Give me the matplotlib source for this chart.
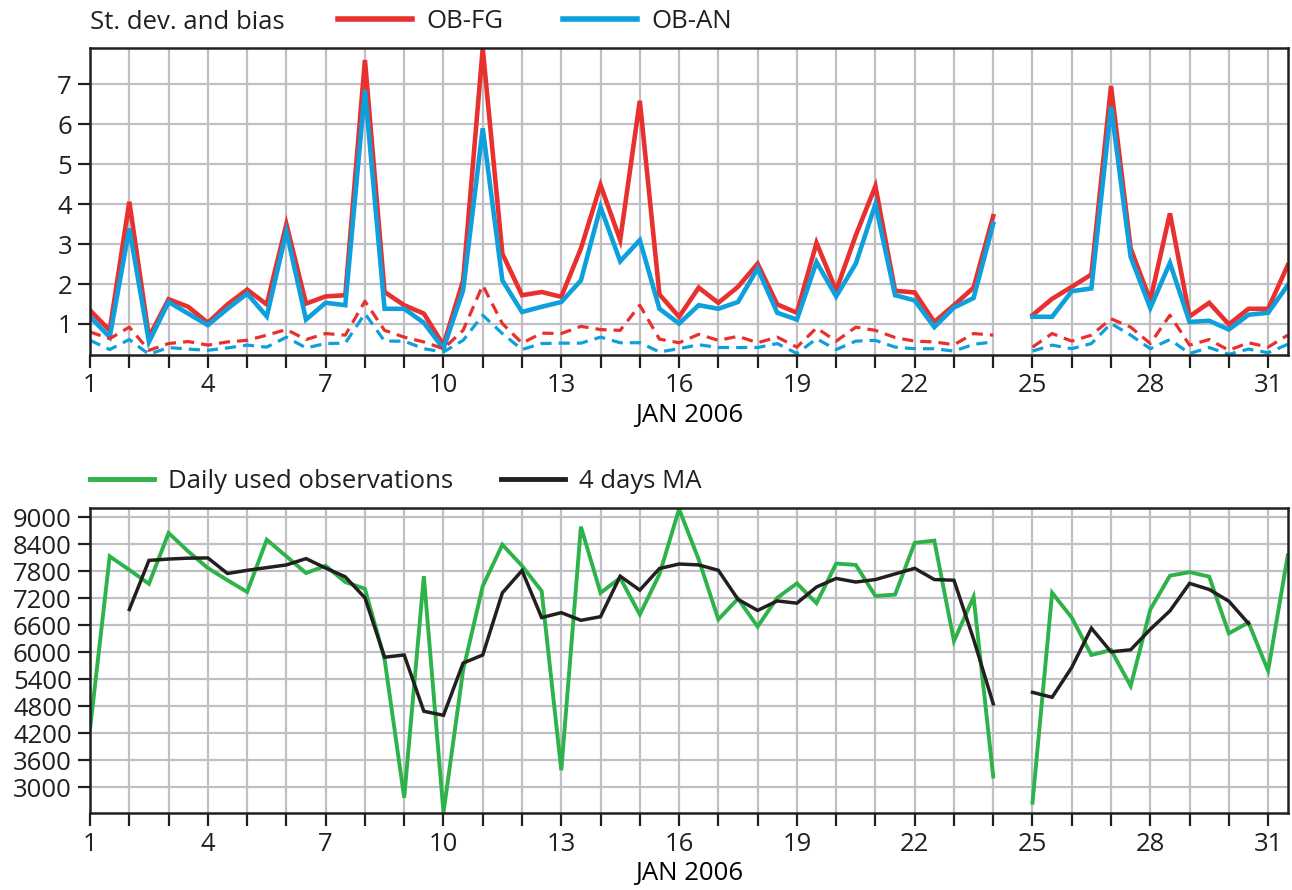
# ======================================================
# Observation monitoring — January 2006
# Top: st. dev. (solid) and bias (dashed) of OB-FG / OB-AN
# Bottom: daily used observations and 4 days moving average
# ======================================================

import numpy as np
import matplotlib
matplotlib.use("Agg")
import matplotlib.pyplot as plt
from matplotlib.lines import Line2D

FS = 18.5  # common font size for ticks, labels and legends

plt.rcParams.update({
    "font.family": ["Open Sans", "DejaVu Sans"],
    "font.size": FS,
    "axes.linewidth": 1.8,
    "axes.edgecolor": "#231f20",
    "xtick.color": "#231f20",
    "ytick.color": "#231f20",
    "text.color": "#231f20",
})

# ======================================================
# DATA (values every 12 h, gap at 24.5)
# ======================================================
nan = np.nan
days = np.arange(1, 32, 0.5)

fg_std = [1.34, 0.84, 4.06, 0.67, 1.62, 1.43, 1.03, 1.49, 1.86, 1.49,
          3.50, 1.51, 1.69, 1.72, 7.61, 1.80, 1.47, 1.26, 0.47, 2.09,
          7.90, 2.76, 1.72, 1.80, 1.68, 2.89, 4.48, 3.10, 6.59, 1.74,
          1.18, 1.91, 1.53, 1.93, 2.51, 1.49, 1.28, 3.03, 1.84, 3.22,
          4.45, 1.83, 1.79, 1.05, 1.47, 1.91, 3.70, nan,
          1.22, 1.63, 1.93, 2.24, 6.96, 2.89, 1.59, 3.77, 1.19, 1.53,
          0.99, 1.38, 1.38, 2.47]
an_std = [1.18, 0.67, 3.39, 0.55, 1.55, 1.26, 0.97, 1.38, 1.76, 1.19,
          3.31, 1.11, 1.53, 1.47, 6.86, 1.38, 1.38, 1.03, 0.38, 1.84,
          5.90, 2.09, 1.30, 1.43, 1.55, 2.09, 3.93, 2.57, 3.10, 1.38,
          1.01, 1.47, 1.38, 1.55, 2.39, 1.28, 1.11, 2.55, 1.69, 2.51,
          4.00, 1.72, 1.59, 0.92, 1.41, 1.65, 3.51, nan,
          1.18, 1.18, 1.82, 1.89, 6.44, 2.68, 1.40, 2.53, 1.05, 1.08,
          0.86, 1.23, 1.28, 1.97]
fg_bias = [0.80, 0.63, 0.92, 0.34, 0.51, 0.56, 0.47, 0.55, 0.59, 0.72,
           0.86, 0.61, 0.76, 0.72, 1.57, 0.84, 0.67, 0.55, 0.38, 0.84,
           1.97, 1.01, 0.52, 0.77, 0.76, 0.94, 0.86, 0.84, 1.47, 0.62,
           0.53, 0.74, 0.59, 0.69, 0.53, 0.67, 0.42, 0.90, 0.57, 0.92,
           0.84, 0.66, 0.57, 0.55, 0.48, 0.76, 0.72, nan,
           0.42, 0.76, 0.57, 0.72, 1.13, 0.92, 0.51, 1.22, 0.47, 0.61,
           0.34, 0.53, 0.42, 0.72]
an_bias = [0.59, 0.36, 0.61, 0.24, 0.41, 0.37, 0.34, 0.40, 0.47, 0.42,
           0.67, 0.40, 0.51, 0.52, 1.26, 0.57, 0.57, 0.38, 0.30, 0.59,
           1.22, 0.76, 0.36, 0.51, 0.52, 0.52, 0.67, 0.53, 0.53, 0.30,
           0.38, 0.48, 0.41, 0.41, 0.41, 0.51, 0.26, 0.63, 0.36, 0.57,
           0.59, 0.42, 0.38, 0.38, 0.32, 0.49, 0.55, nan,
           0.32, 0.47, 0.38, 0.51, 1.01, 0.72, 0.38, 0.61, 0.26, 0.41,
           0.24, 0.37, 0.28, 0.49]

used_obs = [4300, 8130, 7830, 7520, 8650, 8240, 7870, 7600, 7340, 8500,
            8130, 7760, 7920, 7560, 7410, 5850, 2770, 7690, 2440, 5600,
            7470, 8390, 7920, 7360, 3380, 8790, 7320, 7650, 6840, 7730,
            9180, 8060, 6730, 7190, 6570, 7210, 7530, 7090, 7970, 7940,
            7250, 7280, 8430, 8480, 6250, 7230, 3240, nan,
            2660, 7320, 6770, 5940, 6050, 5250, 6950, 7700, 7780, 7680,
            6420, 6660, 5590, 8150]
ma_4days = [nan, nan, 6950, 8040, 8070, 8090, 8095, 7750, 7820, 7880,
            7940, 8080, 7870, 7675, 7210, 5890, 5940, 4690, 4600, 5760,
            5940, 7320, 7815, 6770, 6880, 6710, 6790, 7690, 7380, 7860,
            7960, 7940, 7820, 7175, 6930, 7140, 7090, 7450, 7640, 7560,
            7615, 7740, 7865, 7615, 7600, 6290, 4855, nan,
            5110, 5000, 5665, 6535, 6010, 6055, 6510, 6920, 7530, 7395,
            7135, 6640, nan, nan]

tick_days = np.arange(1, 32)
label_days = [1, 4, 7, 10, 13, 16, 19, 22, 25, 28, 31]
std_ticks = [1, 2, 3, 4, 5, 6, 7]
obs_ticks = [3000, 3600, 4200, 4800, 5400, 6000, 6600, 7200, 7800, 8400, 9000]

RED = "#e8312f"
BLUE = "#0ea0dc"
GREEN = "#2db34a"
BLACK = "#231f20"
GRID = "#c0c0c4"


# ======================================================
# FIGURE AND AXES
# ======================================================
fig = plt.figure(figsize=(12.92, 8.9), dpi=100)
ax1 = fig.add_axes([0.0697, 0.601, 0.927, 0.345])
ax2 = fig.add_axes([0.0697, 0.086, 0.927, 0.343])


def style_axis(ax):
    ax.set_xlim(1, 31.5)
    ax.set_xticks(tick_days)
    ax.set_xticklabels([str(d) if d in label_days else "" for d in tick_days])
    ax.grid(True, color=GRID, linewidth=1.6)
    ax.set_axisbelow(True)
    ax.tick_params(direction="out", length=9, width=1.6, pad=4,
                   labelsize=FS, top=False, right=False)
    ax.set_xlabel("JAN 2006", fontsize=FS, labelpad=3.5)


# ======================================================
# TOP PANEL — ST. DEV. AND BIAS
# ======================================================
ax1.plot(days, fg_std, color=RED, lw=3.3, solid_joinstyle="miter")
ax1.plot(days, an_std, color=BLUE, lw=3.3, solid_joinstyle="miter")
ax1.plot(days, fg_bias, color=RED, lw=2.3, dashes=(3.5, 2.2))
ax1.plot(days, an_bias, color=BLUE, lw=2.3, dashes=(3.5, 2.2))
style_axis(ax1)
ax1.set_ylim(0.22, 7.91)
ax1.set_yticks(std_ticks)

fig.text(0.0697, 0.975, "St. dev. and bias", fontsize=FS, va="center")
handles1 = [Line2D([], [], color=RED, lw=4), Line2D([], [], color=BLUE, lw=4)]
ax1.legend(handles1, ["OB-FG", "OB-AN"], ncol=2, frameon=False,
           loc="center left", bbox_to_anchor=(0.207, 1.085),
           borderpad=0, borderaxespad=0, handlelength=2.9,
           handletextpad=0.55, columnspacing=2.3, fontsize=FS)


# ======================================================
# BOTTOM PANEL — USED OBSERVATIONS
# ======================================================
ax2.plot(days, used_obs, color=GREEN, lw=2.8, solid_joinstyle="miter")
ax2.plot(days, ma_4days, color=BLACK, lw=2.5, solid_joinstyle="miter")
style_axis(ax2)
ax2.set_ylim(2420, 9200)
ax2.set_yticks(obs_ticks)

handles2 = [Line2D([], [], color=GREEN, lw=3.5), Line2D([], [], color=BLACK, lw=3.5)]
ax2.legend(handles2, ["Daily used observations", "4 days MA"], ncol=2,
           frameon=False, loc="center left", bbox_to_anchor=(0.0, 1.087),
           borderpad=0, borderaxespad=0, handlelength=2.5,
           handletextpad=0.55, columnspacing=1.85, fontsize=FS)

fig.savefig("out.png", dpi=100)
plt.close(fig)
